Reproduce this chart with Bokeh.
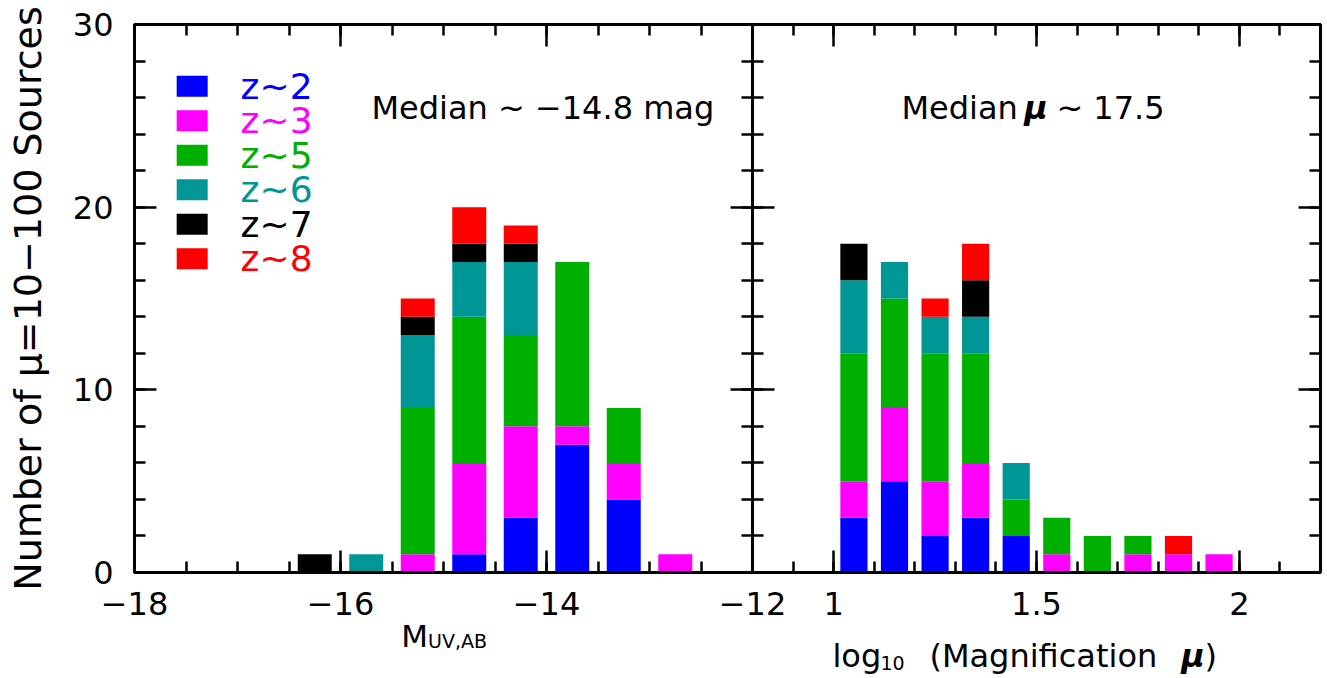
from bokeh.plotting import figure
from bokeh.layouts import row, column
from bokeh.models import (Range1d, LinearAxis, SingleIntervalTicker,
                          CustomJSTickFormatter, Label, ColumnDataSource)
from bokeh.embed import file_html
from bokeh.resources import INLINE
from bokeh.core.properties import value

# ---------------- data ----------------
series = ["z2", "z3", "z5", "z6", "z7", "z8"]
legend_labels = ["z~2", "z~3", "z~5", "z~6", "z~7", "z~8"]
colors = ["#0000FF", "#FF00FF", "#00B000", "#009696", "#000000", "#FF0000"]

# Left panel: M_UV,AB bins
muv_bins = [-16.25, -15.75, -15.25, -14.75, -14.25, -13.75, -13.25, -12.75]
muv_z2 = [0, 0, 0, 1, 3, 7, 4, 0]
muv_z3 = [0, 0, 1, 5, 5, 1, 2, 1]
muv_z5 = [0, 0, 8, 8, 5, 9, 3, 0]
muv_z6 = [0, 1, 4, 3, 4, 0, 0, 0]
muv_z7 = [1, 0, 1, 1, 1, 0, 0, 0]
muv_z8 = [0, 0, 1, 2, 1, 0, 0, 0]

# Right panel: log10(mu) bins
mu_bins = [1.05, 1.15, 1.25, 1.35, 1.45, 1.55, 1.65, 1.75, 1.85, 1.95]
mu_z2 = [3, 5, 2, 3, 2, 0, 0, 0, 0, 0]
mu_z3 = [2, 4, 3, 3, 0, 1, 0, 1, 1, 1]
mu_z5 = [7, 6, 7, 6, 2, 2, 2, 1, 0, 0]
mu_z6 = [4, 2, 2, 2, 2, 0, 0, 0, 0, 0]
mu_z7 = [2, 0, 0, 2, 0, 0, 0, 0, 0, 0]
mu_z8 = [0, 0, 1, 2, 0, 0, 0, 0, 1, 0]

median_left = "Median ~ \u221214.8 mag"
median_right = ["Median", "\u03bc", "~ 17.5"]
ylabel = "Number of \u03bc=10\u2212100 Sources"

FONT = "DejaVu Sans"
LW = 3
H_MAIN = 624
H_STRIP = 92
STRIP_OVERLAP = 40

fmt = CustomJSTickFormatter(code="return (tick < 0 ? '\u2212' : '') + Math.abs(tick).toString();")
blank = CustomJSTickFormatter(code="return '';")


def style_axis(ax, ticker, show_labels):
    ax.ticker = ticker
    ax.axis_line_width = LW
    ax.axis_line_color = "black"
    ax.major_tick_in = 22
    ax.major_tick_out = 0
    ax.minor_tick_in = 11
    ax.minor_tick_out = 0
    ax.major_tick_line_width = 2.5
    ax.minor_tick_line_width = 2.5
    ax.major_tick_line_color = "black"
    ax.minor_tick_line_color = "black"
    if show_labels:
        ax.formatter = fmt
        ax.major_label_text_font = FONT
        ax.major_label_text_font_size = "32px"
        ax.major_label_text_color = "black"
    else:
        ax.formatter = blank
        ax.major_label_standoff = 0
    return ax


def make_fig(width, xr, bl, br):
    p = figure(width=width, height=H_MAIN, x_range=xr, y_range=Range1d(0, 30),
               output_backend="svg", toolbar_location=None, title=None,
               x_axis_location=None, y_axis_location=None,
               min_border_left=bl, min_border_right=br,
               min_border_top=24, min_border_bottom=52)
    p.grid.visible = False
    p.outline_line_color = "black"
    p.outline_line_width = LW
    p.border_fill_color = None
    p.background_fill_color = "white"
    return p


def make_strip(width, xr, bl, br):
    q = figure(width=width, height=H_STRIP, x_range=xr, y_range=Range1d(H_STRIP, 0),
               output_backend="svg", toolbar_location=None, title=None,
               x_axis_location=None, y_axis_location=None,
               min_border_left=bl, min_border_right=br,
               min_border_top=0, min_border_bottom=0)
    q.grid.visible = False
    q.outline_line_color = None
    q.border_fill_color = None
    q.background_fill_color = None
    return q


def label(fig, x, y, text, size="32px", style="normal"):
    fig.add_layout(Label(x=x, y=y, text=text, text_font=FONT, text_font_size=size,
                         text_font_style=style, text_color="black",
                         text_baseline="alphabetic", text_align="left"))


def strip_text(fig, x, y, text, size="32px", style="normal"):
    fig.text(x=[x], y=[y], text=[text], text_font=value(FONT),
             text_font_size=size, text_font_style=style, text_color="black",
             text_baseline="alphabetic", text_align="left")


yt = SingleIntervalTicker(interval=10, num_minor_ticks=5)

# ---------------- left panel ----------------
p1 = make_fig(802, Range1d(-18, -12), 134, 50)
xt1 = SingleIntervalTicker(interval=2, num_minor_ticks=4)
b1 = style_axis(LinearAxis(), xt1, True)
b1.major_label_standoff = 19
p1.add_layout(b1, "below")
p1.add_layout(style_axis(LinearAxis(), xt1, False), "above")
l1 = style_axis(LinearAxis(), yt, True)
l1.major_label_standoff = 21
l1.axis_label = ylabel
l1.axis_label_text_font = FONT
l1.axis_label_text_font_size = "38px"
l1.axis_label_text_font_style = "normal"
l1.axis_label_text_color = "black"
l1.axis_label_standoff = 20
p1.add_layout(l1, "left")
p1.add_layout(style_axis(LinearAxis(), yt, False), "right")

src1 = ColumnDataSource(dict(x=muv_bins, z2=muv_z2, z3=muv_z3, z5=muv_z5,
                             z6=muv_z6, z7=muv_z7, z8=muv_z8))
p1.vbar_stack(series, x="x", width=0.33, fill_color=colors, line_color=None,
              source=src1)

# custom legend (coloured boxes + coloured labels)
leg_y = [26.62 - 1.89 * i for i in range(len(series))]
p1.rect(x=[-17.44] * len(series), y=leg_y, width=31, height=21,
        width_units="screen", height_units="screen",
        fill_color=colors, line_color=None)
p1.text(x=[-16.97] * len(series), y=leg_y, text=legend_labels,
        text_color=colors, text_font=value(FONT), text_font_size="36px",
        text_baseline="middle", text_align="left")

label(p1, -15.70, 25.45, median_left, size="32px")

# ---------------- right panel ----------------
p2 = make_fig(622, Range1d(0.8, 2.2), 50, 4)
p2.margin = (0, 0, 0, -100)
xt2 = SingleIntervalTicker(interval=0.5, num_minor_ticks=5)
b2 = style_axis(LinearAxis(), xt2, True)
b2.major_label_standoff = 19
p2.add_layout(b2, "below")
p2.add_layout(style_axis(LinearAxis(), xt2, False), "above")
p2.add_layout(style_axis(LinearAxis(), yt, False), "left")
p2.add_layout(style_axis(LinearAxis(), yt, False), "right")

src2 = ColumnDataSource(dict(x=mu_bins, z2=mu_z2, z3=mu_z3, z5=mu_z5,
                             z6=mu_z6, z7=mu_z7, z8=mu_z8))
p2.vbar_stack(series, x="x", width=0.067, fill_color=colors, line_color=None,
              source=src2)

label(p2, 1.167, 25.45, median_right[0], size="32px")
label(p2, 1.470, 25.45, median_right[1], size="32px", style="bold italic")
label(p2, 1.549, 25.45, median_right[2], size="32px")

# ---------------- x-axis titles (transparent strips overlapping the bottom) ----------------
q1 = make_strip(802, p1.x_range, 134, 50)
q1.margin = (-STRIP_OVERLAP, 0, 0, 0)
strip_text(q1, -15.41, 51, "M", size="31px")
strip_text(q1, -15.15, 56, "UV,AB", size="19px")

q2 = make_strip(622, p2.x_range, 50, 4)
q2.margin = (-STRIP_OVERLAP, 0, 0, -100)
strip_text(q2, 0.997, 71, "log")
strip_text(q2, 1.1155, 78, "10", size="19px")
strip_text(q2, 1.236, 71, "(Magnification")
strip_text(q2, 1.857, 71, "\u03bc", style="bold italic")
strip_text(q2, 1.914, 71, ")")

layout = column(row(p1, p2), row(q1, q2))
with open("out.html", "w", encoding="utf-8") as f:
    f.write(file_html(layout, INLINE))
